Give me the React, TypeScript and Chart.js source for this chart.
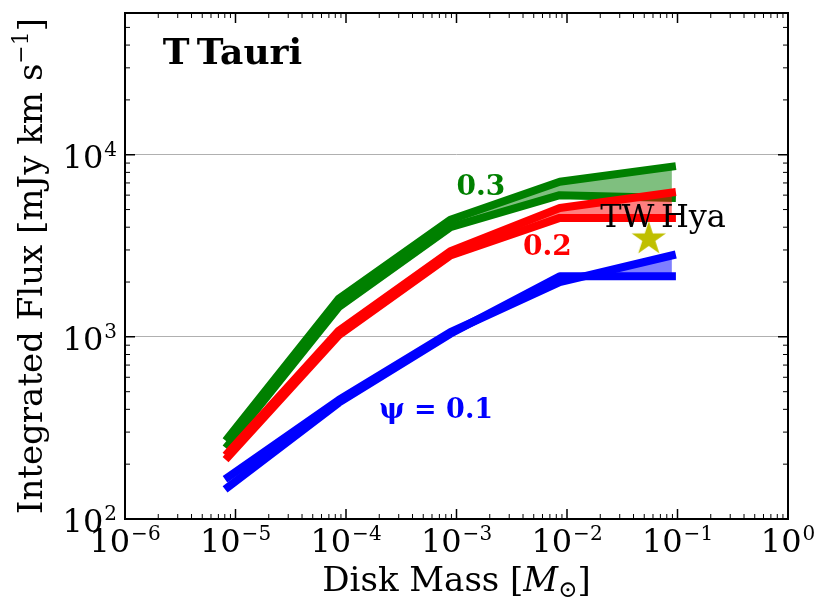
import React, { useRef, useEffect } from 'react';
import { Chart, registerables } from 'chart.js';

Chart.register(...registerables);

// disk masses (M_sun) of the model grid
const diskMass = [8.6e-6, 8.6e-5, 8.8e-4, 8.6e-3, 8.9e-2];

// integrated flux (mJy km/s), two bounding curves per psi
const psi03Upper = [280, 1620, 4400, 7100, 8600];
const psi03Lower = [255, 1460, 4000, 6000, 5800];
const psi02Upper = [232, 1080, 2950, 5100, 6200];
const psi02Lower = [220, 1020, 2800, 4500, 4500];
const psi01Upper = [170, 450, 1060, 2000, 2800];
const psi01Lower = [150, 435, 1040, 2150, 2150];

// TW Hya observation
const twHyaMass = [0.055];
const twHyaFlux = [3450];

const xTickPowers = [-6, -5, -4, -3, -2, -1, 0];
const yTickPowers = [2, 3, 4];

// text annotations in data coordinates (left/baseline anchored)
const noteText = ['0.3', '0.2', '\u03c8 = 0.1', 'TW\u2009Hya'];
const noteX = [1e-3, 4e-3, 2e-4, 0.02];
const noteY = [6000, 2800, 360, 4000];
const noteColor = ['#008000', '#ff0000', '#0000ff', '#000000'];
const noteFont = ['bold 28px', 'bold 28px', 'bold 27px', '32px'];

const SERIF = '"DejaVu Serif", "Liberation Serif", serif';

const toXY = (ys: number[]) => ys.map((y, i) => ({ x: diskMass[i], y }));

function makeStar(color: string, r: number) {
    const c = document.createElement('canvas');
    const s = Math.ceil(r * 2 + 4);
    c.width = s;
    c.height = s;
    const g = c.getContext('2d')!;
    const cx = s / 2, cy = s / 2, ri = r * 0.381966;
    g.beginPath();
    for (let k = 0; k < 10; k++) {
        const rad = k % 2 === 0 ? r : ri;
        const a = -Math.PI / 2 + (k * Math.PI) / 5;
        const px = cx + rad * Math.cos(a), py = cy + rad * Math.sin(a);
        if (k === 0) g.moveTo(px, py); else g.lineTo(px, py);
    }
    g.closePath();
    g.fillStyle = color;
    g.fill();
    return c;
}

function drawPow(ctx: CanvasRenderingContext2D, p: number, x: number, y: number, align: string) {
    const base = '10';
    const sup = p < 0 ? '\u2212' + -p : String(p);
    ctx.font = `32px ${SERIF}`;
    const wb = ctx.measureText(base).width;
    ctx.font = `20px ${SERIF}`;
    const ws = ctx.measureText(sup).width;
    const tot = wb + ws + 1;
    const x0 = align === 'center' ? x - tot / 2 : x - tot;
    ctx.textAlign = 'left';
    ctx.textBaseline = 'alphabetic';
    ctx.font = `32px ${SERIF}`;
    ctx.fillText(base, x0, y);
    ctx.font = `20px ${SERIF}`;
    ctx.fillText(sup, x0 + wb + 1, y - 12);
}

// pieces: [text, font, dy]
function drawPieces(ctx: CanvasRenderingContext2D, pieces: [string, string, number][], x: number, y: number) {
    let tot = 0;
    for (const [t, f] of pieces) {
        ctx.font = f;
        tot += ctx.measureText(t).width;
    }
    let cx = x - tot / 2;
    ctx.textAlign = 'left';
    ctx.textBaseline = 'alphabetic';
    for (const [t, f, dy] of pieces) {
        ctx.font = f;
        ctx.fillText(t, cx, y + dy);
        cx += ctx.measureText(t).width;
    }
}

const axesPlugin = {
    id: 'mplAxes',
    afterDatasetsDraw(chart: any) {
        const ctx: CanvasRenderingContext2D = chart.ctx;
        const { left, right, top, bottom } = chart.chartArea;
        const xs = chart.scales.x, ys = chart.scales.y;
        ctx.save();

        // annotations
        noteText.forEach((t, i) => {
            ctx.font = `${noteFont[i]} ${SERIF}`;
            ctx.fillStyle = noteColor[i];
            ctx.textAlign = 'left';
            ctx.textBaseline = 'alphabetic';
            ctx.fillText(t, xs.getPixelForValue(noteX[i]), ys.getPixelForValue(noteY[i]));
        });
        ctx.font = `bold 36px ${SERIF}`;
        ctx.fillStyle = '#000';
        ctx.fillText('T\u2009Tauri', left + 0.057 * (right - left), bottom - 0.9 * (bottom - top));

        // ticks (inward, all sides)
        ctx.strokeStyle = '#000';
        const xMin = Math.log10(xs.min), xMax = Math.log10(xs.max);
        for (let p = Math.floor(xMin); p <= xMax; p++) {
            for (let m = 1; m <= 9; m++) {
                const v = m * Math.pow(10, p);
                if (v < xs.min * 0.999 || v > xs.max * 1.001) continue;
                const px = xs.getPixelForValue(v);
                const len = m === 1 ? 10 : 5;
                ctx.lineWidth = m === 1 ? 1.5 : 1;
                ctx.beginPath();
                ctx.moveTo(px, bottom); ctx.lineTo(px, bottom - len);
                ctx.moveTo(px, top); ctx.lineTo(px, top + len);
                ctx.stroke();
            }
        }
        const yMin = Math.log10(ys.min), yMax = Math.log10(ys.max);
        for (let p = Math.floor(yMin); p <= yMax; p++) {
            for (let m = 1; m <= 9; m++) {
                const v = m * Math.pow(10, p);
                if (v < ys.min * 0.999 || v > ys.max * 1.001) continue;
                const py = ys.getPixelForValue(v);
                const len = m === 1 ? 10 : 5;
                ctx.lineWidth = m === 1 ? 1.5 : 1;
                ctx.beginPath();
                ctx.moveTo(left, py); ctx.lineTo(left + len, py);
                ctx.moveTo(right, py); ctx.lineTo(right - len, py);
                ctx.stroke();
            }
        }

        // frame
        ctx.lineWidth = 2;
        ctx.strokeRect(left, top, right - left, bottom - top);

        // tick labels
        ctx.fillStyle = '#000';
        xTickPowers.forEach((p) => drawPow(ctx, p, xs.getPixelForValue(Math.pow(10, p)), bottom + 33, 'center'));
        yTickPowers.forEach((p) => drawPow(ctx, p, left - 8, ys.getPixelForValue(Math.pow(10, p)) + 13, 'right'));

        // axis titles
        const f = `34px ${SERIF}`;
        drawPieces(ctx, [
            ['Disk Mass [', f, 0],
            ['M', `italic 34px ${SERIF}`, 0],
            ['\u2299', `23px ${SERIF}`, 6],
            [']', f, 0],
        ], (left + right) / 2, bottom + 72);
        ctx.translate(42, (top + bottom) / 2);
        ctx.rotate(-Math.PI / 2);
        drawPieces(ctx, [
            ['Integrated Flux [mJy km s', f, 0],
            ['\u22121', `22px ${SERIF}`, -14],
            [']', f, 0],
        ], 0, 0);
        ctx.restore();
    },
};

const band = (data: number[], color: string, fillColor: string | false, order: number) => ({
    data: toXY(data),
    borderColor: color,
    borderWidth: 8,
    borderCapStyle: 'square',
    borderJoinStyle: 'round',
    backgroundColor: fillColor || 'transparent',
    fill: fillColor ? '+1' : false,
    pointRadius: 0,
    tension: 0,
    order,
});

const App: React.FC = () => {
    const chartRef = useRef<HTMLCanvasElement | null>(null);

    useEffect(() => {
        document.body.style.margin = '0';
        if (!chartRef.current) return;
        const star = makeStar('#bfbf00', 18);
        const chartInstance = new Chart(chartRef.current, {
            type: 'line',
            data: {
                datasets: [
                    band(psi02Upper, '#ff0000', 'rgba(255,0,0,0.5)', 1),
                    band(psi02Lower, '#ff0000', false, 2),
                    band(psi03Upper, '#008000', 'rgba(0,128,0,0.5)', 3),
                    band(psi03Lower, '#008000', false, 4),
                    band(psi01Upper, '#0000ff', 'rgba(0,0,255,0.5)', 5),
                    band(psi01Lower, '#0000ff', false, 6),
                    {
                        data: twHyaMass.map((x, i) => ({ x, y: twHyaFlux[i] })),
                        showLine: false,
                        pointStyle: star,
                        pointRadius: 5,
                        borderColor: '#bfbf00',
                        backgroundColor: '#bfbf00',
                        order: 0,
                    } as any,
                ],
            },
            options: {
                animation: false,
                responsive: false,
                devicePixelRatio: 1,
                layout: { autoPadding: false, padding: { left: 0, right: 43, top: 13, bottom: 0 } },
                plugins: { legend: { display: false }, tooltip: { enabled: false } },
                scales: {
                    x: {
                        type: 'logarithmic',
                        min: 1e-6,
                        max: 1,
                        ticks: { display: false },
                        grid: { display: false },
                        border: { display: false },
                        afterFit: (s: any) => { s.height = 94; },
                    },
                    y: {
                        type: 'logarithmic',
                        min: 100,
                        max: 6e4,
                        ticks: { display: false },
                        afterBuildTicks: (s: any) => {
                            s.ticks = yTickPowers.map((p) => ({ value: Math.pow(10, p) }));
                        },
                        grid: { color: '#b0b0b0', lineWidth: 1, drawTicks: false },
                        border: { display: false },
                        afterFit: (s: any) => { s.width = 125; },
                    },
                },
            },
            plugins: [axesPlugin],
        } as any);

        return () => {
            chartInstance.destroy();
        };
    }, []);

    return <canvas ref={chartRef} width={831} height={613} style={{ display: 'block' }}></canvas>;
};

export default App;
